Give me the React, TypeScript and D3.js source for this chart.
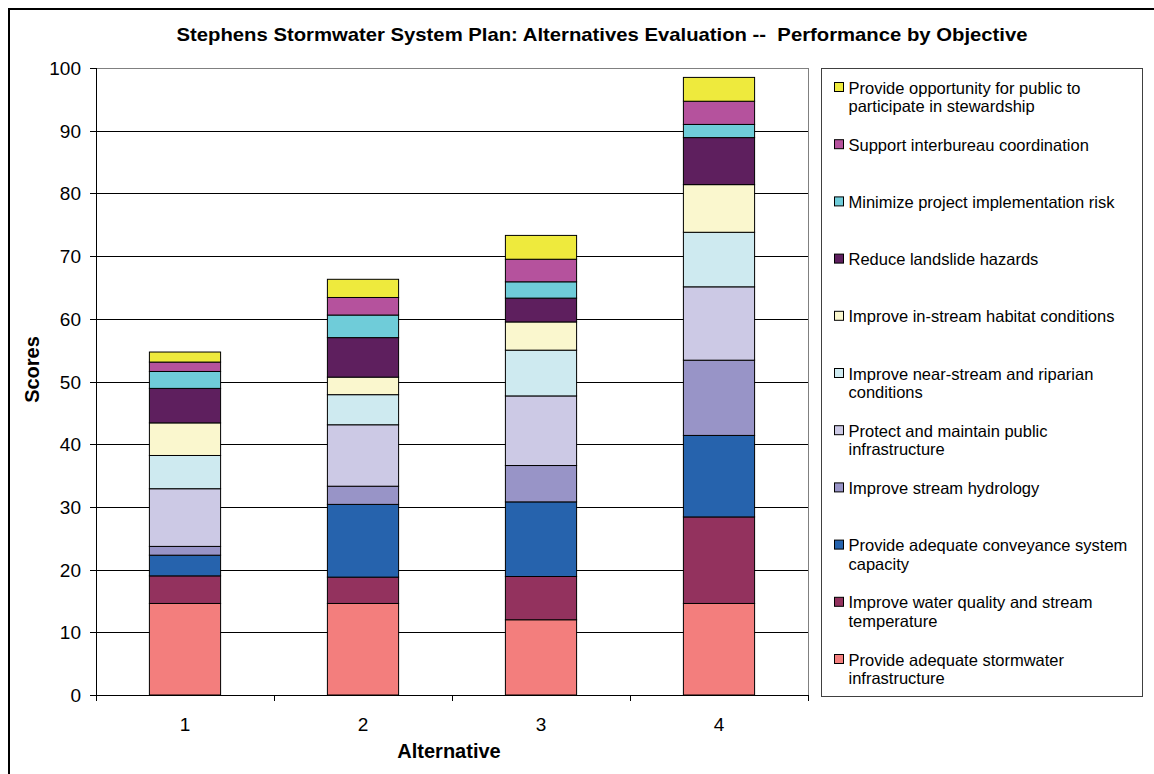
import React from "react";
import * as d3 from "d3";

const alternatives = ["1", "2", "3", "4"];

// Series in stacking order (bottom to top)
const stormwaterInfra = [14.6, 14.6, 12.0, 14.6];
const waterQuality = [4.4, 4.2, 6.9, 13.8];
const conveyance = [3.3, 11.6, 11.9, 13.0];
const hydrology = [1.4, 2.9, 5.8, 12.0];
const publicInfra = [9.2, 9.8, 11.1, 11.7];
const nearStream = [5.3, 4.8, 7.3, 8.7];
const inStream = [5.2, 2.8, 4.5, 7.6];
const landslide = [5.5, 6.3, 3.8, 7.5];
const implRisk = [2.7, 3.6, 2.6, 2.1];
const interbureau = [1.5, 2.8, 3.6, 3.7];
const stewardship = [1.6, 2.9, 3.8, 3.8];

const seriesKeys = [
  "stormwaterInfra", "waterQuality", "conveyance", "hydrology", "publicInfra",
  "nearStream", "inStream", "landslide", "implRisk", "interbureau", "stewardship",
];
const seriesValues = [
  stormwaterInfra, waterQuality, conveyance, hydrology, publicInfra,
  nearStream, inStream, landslide, implRisk, interbureau, stewardship,
];
const seriesLabels = [
  ["Provide adequate stormwater", "infrastructure"],
  ["Improve water quality and stream", "temperature"],
  ["Provide adequate conveyance system", "capacity"],
  ["Improve stream hydrology"],
  ["Protect and maintain public", "infrastructure"],
  ["Improve near-stream and riparian", "conditions"],
  ["Improve in-stream habitat conditions"],
  ["Reduce landslide hazards"],
  ["Minimize project implementation risk"],
  ["Support interbureau coordination"],
  ["Provide opportunity for public to", "participate in stewardship"],
];
const seriesColors = [
  "#F37E7D", "#93325E", "#2663AD", "#9894C7", "#CCC9E5",
  "#CEEAF0", "#FAF7CE", "#5E1F5E", "#6FCCD9", "#B5529D", "#EEEA3D",
];
const yTicks = [0, 10, 20, 30, 40, 50, 60, 70, 80, 90, 100];

const FONT = "Arial, 'Liberation Sans', Helvetica, sans-serif";

export default function App() {
  const left = 96, right = 808, top = 68, bottom = 695;
  const x = d3.scaleBand<string>().domain(alternatives).range([left, right]).paddingInner(0.6).paddingOuter(0.3);
  const xOuter = d3.scaleBand<string>().domain(alternatives).range([left, right]);
  const y = d3.scaleLinear().domain([0, 100]).range([bottom, top]);

  const rows = alternatives.map((a, i) => {
    const r: any = { alt: a };
    seriesKeys.forEach((k, j) => (r[k] = seriesValues[j][i]));
    return r;
  });
  const stacked = d3.stack<any>().keys(seriesKeys)(rows);

  const legX = 821, legY = 68, legW = 321, legH = 628;
  const legendOrder = d3.range(seriesKeys.length).reverse();

  return (
    <svg width={1154} height={774} style={{ position: "absolute", left: 0, top: 0 }} fontFamily={FONT}>
      <rect x={0} y={0} width={1154} height={774} fill="#fff" />
      <rect x={9} y={9} width={1170} height={800} fill="#fff" stroke="#000" strokeWidth={2} />
      <text x={602} y={41} textAnchor="middle" fontWeight="bold" fontSize={19} textLength={851} lengthAdjust="spacingAndGlyphs" style={{ whiteSpace: "pre" }}>
        {"Stephens Stormwater System Plan: Alternatives Evaluation --  Performance by Objective"}
      </text>

      {/* gridlines */}
      {yTicks.filter((t) => t > 0 && t < 100).map((t) => (
        <line key={t} x1={left} x2={right} y1={Math.round(y(t)) + 0.5} y2={Math.round(y(t)) + 0.5} stroke="#000" strokeWidth={1} />
      ))}
      <line x1={left} x2={right} y1={top + 0.5} y2={top + 0.5} stroke="#808080" />
      <line x1={right + 0.5} x2={right + 0.5} y1={top} y2={bottom} stroke="#808080" />

      {/* bars */}
      {stacked.map((s, j) => (
        <g key={s.key} fill={seriesColors[j]}>
          {s.map((d, i) => (
            <rect key={i} x={x(alternatives[i])!} width={x.bandwidth()} y={y(d[1])} height={y(d[0]) - y(d[1])} stroke="#000" strokeWidth={1} />
          ))}
        </g>
      ))}

      {/* axes */}
      <line x1={left + 0.5} x2={left + 0.5} y1={top} y2={bottom} stroke="#000" />
      <line x1={left} x2={right} y1={bottom + 0.5} y2={bottom + 0.5} stroke="#000" />
      {yTicks.map((t) => (
        <g key={t}>
          <line x1={90} x2={left} y1={Math.round(y(t)) + 0.5} y2={Math.round(y(t)) + 0.5} stroke="#000" />
          <text x={81} y={y(t) + 7} textAnchor="end" fontSize={19}>{t}</text>
        </g>
      ))}
      {alternatives.map((a, i) => (
        <g key={a}>
          <line x1={Math.round(xOuter(a)!) + 0.5} x2={Math.round(xOuter(a)!) + 0.5} y1={bottom} y2={bottom + 6} stroke="#000" />
          {i === alternatives.length - 1 && (
            <line x1={right + 0.5} x2={right + 0.5} y1={bottom} y2={bottom + 6} stroke="#000" />
          )}
          <text x={xOuter(a)! + xOuter.bandwidth() / 2} y={731} textAnchor="middle" fontSize={19}>{a}</text>
        </g>
      ))}
      <text x={449} y={758} textAnchor="middle" fontWeight="bold" fontSize={20}>Alternative</text>
      <text transform="translate(38.5,369.5) rotate(-90)" textAnchor="middle" fontWeight="bold" fontSize={20}>Scores</text>

      {/* legend */}
      <rect x={legX + 0.5} y={legY + 0.5} width={legW} height={legH} fill="#fff" stroke="#404040" />
      {legendOrder.map((j, k) => {
        const by = 93.5 + k * 57.2;
        return (
          <g key={seriesKeys[j]}>
            <rect x={834.5} y={by - 11} width={9} height={9} fill={seriesColors[j]} stroke="#000" strokeWidth={1} />
            {seriesLabels[j].map((line, li) => (
              <text key={li} x={848.5} y={by + li * 18.5} fontSize={16.5}>{line}</text>
            ))}
          </g>
        );
      })}
    </svg>
  );
}
